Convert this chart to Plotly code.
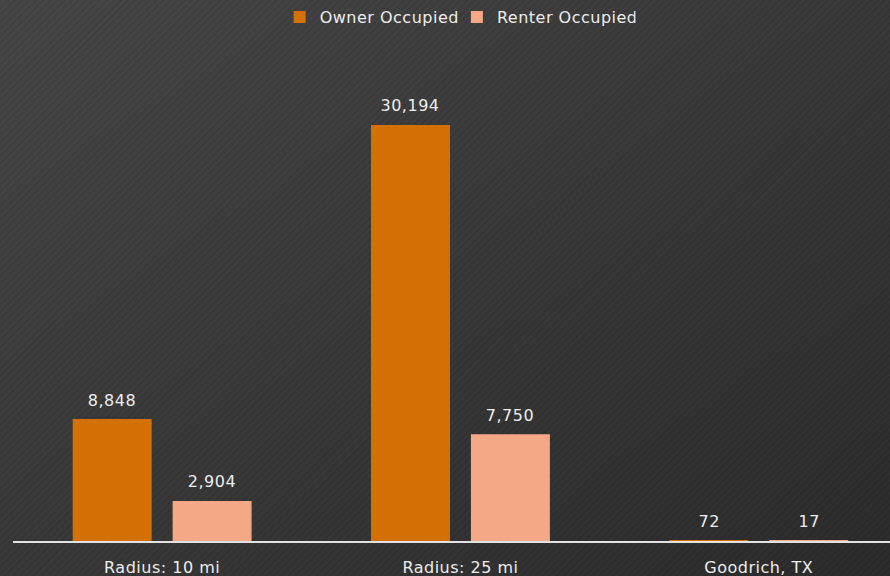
import base64
import plotly.graph_objects as go

categories = ["Radius: 10 mi", "Radius: 25 mi", "Goodrich, TX"]
owner_occupied = [8848, 30194, 72]
renter_occupied = [2904, 7750, 17]
series_names = ["Owner Occupied", "Renter Occupied"]
series_colors = ["#D57005", "#F4A886"]

W, H = 890, 576
ML, MR, MT, MB = 13, 0, 45, 35
BARGAP, BARGROUPGAP = 0.33, 0.21

# background: dark diagonal gradient with fine diagonal stripes
svg = f"""<svg xmlns='http://www.w3.org/2000/svg' width='{W}' height='{H}'>
<defs>
<linearGradient id='g' x1='0' y1='0' x2='1' y2='1'>
<stop offset='0' stop-color='#474747'/>
<stop offset='0.5' stop-color='#393939'/>
<stop offset='1' stop-color='#2c2c2c'/>
</linearGradient>
<pattern id='p' width='5' height='5' patternUnits='userSpaceOnUse' patternTransform='rotate(45)'>
<rect x='0' y='0' width='1.5' height='5' fill='rgba(0,0,0,0.11)'/>
</pattern>
</defs>
<rect width='{W}' height='{H}' fill='url(#g)'/>
<rect width='{W}' height='{H}' fill='url(#p)'/>
</svg>"""
bg_uri = "data:image/svg+xml;base64," + base64.b64encode(svg.encode()).decode()

pw, ph = W - ML - MR, H - MT - MB

fig = go.Figure()
for name, vals, col in zip(series_names, [owner_occupied, renter_occupied], series_colors):
    fig.add_trace(go.Bar(
        name=name, x=categories, y=vals,
        marker=dict(color=col, line=dict(width=0)),
        cliponaxis=False,
    ))

# data labels above each bar
slot = (1 - BARGAP) / 2
annotations = []
for k, vals in enumerate([owner_occupied, renter_occupied]):
    off = (k - 0.5) * slot
    for i, v in enumerate(vals):
        annotations.append(dict(
            x=i + off, y=v, xref="x", yref="y", text=f"{v:,}",
            showarrow=False, yanchor="middle", yshift=19,
            font=dict(size=16, color="#EDEDED"),
        ))

fig.update_layout(
    width=W, height=H,
    margin=dict(l=ML, r=MR, t=MT, b=MB),
    paper_bgcolor="#353535", plot_bgcolor="rgba(0,0,0,0)",
    font=dict(family="DejaVu Sans", color="#EDEDED", size=16),
    barmode="group", bargap=BARGAP, bargroupgap=BARGROUPGAP,
    showlegend=True,
    legend=dict(orientation="h", x=0.507, xanchor="center", y=1.0, yanchor="top",
                yref="container", font=dict(size=16), itemwidth=30,
                bgcolor="rgba(0,0,0,0)", traceorder="normal"),
    xaxis=dict(showline=True, linecolor="#E2E2E2", linewidth=1.5, showgrid=False,
               ticks="outside", ticklen=11, tickcolor="rgba(0,0,0,0)",
               tickfont=dict(size=16, color="#EDEDED"), range=[-0.5, 2.44]),
    yaxis=dict(range=[0, 36000], visible=False, showgrid=False),
    annotations=annotations,
    images=[dict(source=bg_uri, xref="paper", yref="paper",
                 x=-ML / pw, y=1 + MT / ph, sizex=W / pw, sizey=H / ph,
                 xanchor="left", yanchor="top", sizing="stretch", layer="below")],
)
fig.write_html(
    "out.html",
    config={"displayModeBar": False},
    post_script=(
        "document.body.style.margin='0';document.body.style.padding='0';"
        "document.querySelectorAll('.main-svg text').forEach(function(t){t.style.letterSpacing='0.5px';});"
    ),
)
